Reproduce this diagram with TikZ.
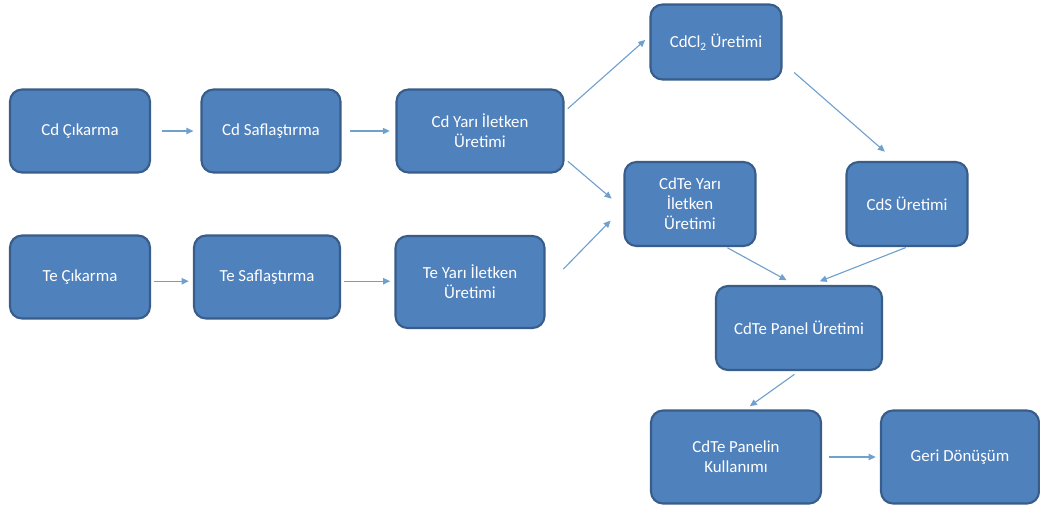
\documentclass[tikz,border=0pt]{standalone}
\usepackage{fontspec}
\setmainfont{Carlito}
\usetikzlibrary{arrows.meta}
\definecolor{boxfill}{RGB}{79,129,189}
\definecolor{boxline}{RGB}{56,93,138}
\definecolor{arrline}{RGB}{112,160,205}
\begin{document}
\begin{tikzpicture}[x=0.025cm,y=-0.025cm]
\tikzstyle{every node}+=[inner sep=0pt]
\tikzstyle{stage}=[draw=boxline, line width=1.5pt, fill=boxfill, rounded corners=0.3cm, text=white, align=center, font=\fontsize{12}{14.3}\selectfont]
\tikzstyle{arr}=[arrline, line width=0.8pt, -{Triangle[length=5pt,width=4.5pt]}]
\useasboundingbox (0,0) rectangle (1040,509);
\node [stage, minimum width=3.5cm, minimum height=2.075cm] (cdcik) at (80,131) {Cd Çıkarma};
\node [stage, minimum width=3.475cm, minimum height=2.075cm] (cdsaf) at (271,131) {Cd Saflaştırma};
\node [stage, minimum width=4.175cm, minimum height=2.075cm] (cdyari) at (480,131) {Cd Yarı İletken\\Üretimi};
\node [stage, minimum width=3.275cm, minimum height=1.875cm] (cdcl) at (716,42) {CdCl\textsubscript{2} Üretimi};
\node [stage, minimum width=3.275cm, minimum height=2.1cm] (cdteyari) at (690,204) {CdTe Yarı\\İletken\\Üretimi};
\node [stage, minimum width=3.025cm, minimum height=2.1cm] (cds) at (907,204) {CdS Üretimi};
\node [stage, minimum width=3.5cm, minimum height=2.075cm] (tecik) at (80,277) {Te Çıkarma};
\node [stage, minimum width=3.65cm, minimum height=2.075cm] (tesaf) at (267,277) {Te Saflaştırma};
\node [stage, minimum width=3.725cm, minimum height=2.3cm] (teyari) at (470,282) {Te Yarı İletken\\Üretimi};
\node [stage, minimum width=4.15cm, minimum height=2.1cm] (panel) at (799,328) {CdTe Panel Üretimi};
\node [stage, minimum width=4.25cm, minimum height=2.325cm] (kullanim) at (736,457) {CdTe Panelin\\Kullanımı};
\node [stage, minimum width=3.95cm, minimum height=2.325cm] (geri) at (960,457) {Geri Dönüşüm};
% connectors
\draw [arr, shorten <=8pt, shorten >=5pt] (cdcik.east) -- (cdsaf.west);
\draw [arr, shorten <=6pt, shorten >=4pt] (cdsaf.east) -- (cdyari.west);
\draw [arr, shorten <=2pt, shorten >=3pt] ([yshift=-3pt]tecik.east) -- ([yshift=-3pt]tesaf.west);
\draw [arr, shorten <=2pt, shorten >=3pt] ([yshift=-3pt]tesaf.east) -- ([yshift=-3pt]tesaf.east -| teyari.west);
\draw [arr, shorten <=3pt, shorten >=4pt] (cdyari.13) -- (cdcl.175);
\draw [arr, shorten <=11pt, shorten >=10pt] (cdcl.-17) -- (cds.105);
\draw [arr, shorten <=3pt, shorten >=11pt] (cdyari.-18) -- (cdteyari.184);
\draw [arr, shorten <=18pt, shorten >=13pt] (teyari.-4) -- (cdteyari.183);
\draw [arr, shorten <=1pt, shorten >=7pt] (cdteyari.-50) -- (panel.95);
\draw [arr, shorten <=1pt, shorten >=7pt] (cds.south) -- (panel.75);
\draw [arr, shorten <=4pt, shorten >=4pt] (panel.south) -- (kullanim.79);
\draw [arr, shorten <=5pt, shorten >=3pt] (kullanim.east) -- (geri.west);
\end{tikzpicture}
\end{document}
